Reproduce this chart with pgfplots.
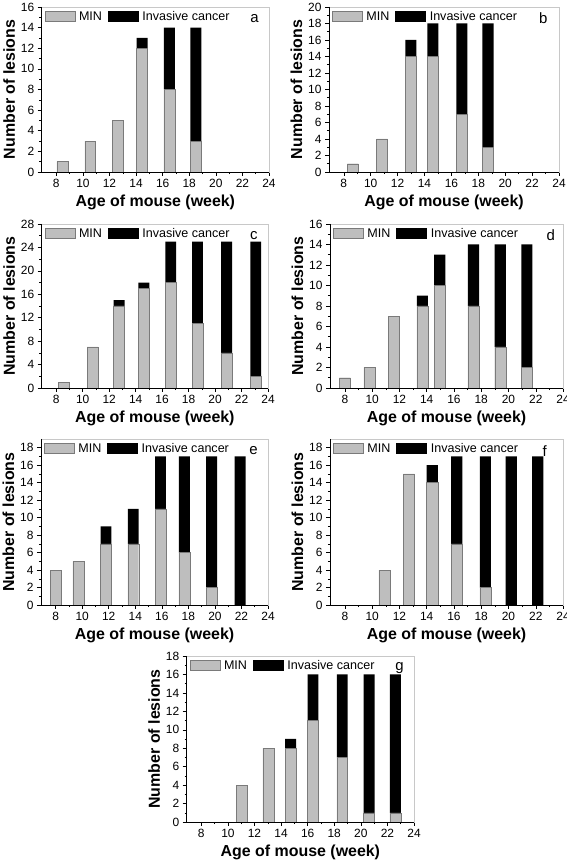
\documentclass[border=0pt]{standalone}
\usepackage{fontspec}
\setmainfont{Liberation Sans}
\usepackage{pgfplots}
\pgfplotsset{compat=1.18}
\definecolor{mingray}{HTML}{BEBEBE}
\definecolor{minedge}{HTML}{7A7A7A}
\definecolor{framegray}{HTML}{C8C8C8}
\pgfplotsset{panel/.style={
  scale only axis, anchor=south west,
  xmin=6.9, xmax=24, ymin=0,
  xtick={8,10,...,24},
  minor x tick num=1, minor y tick num=1,
  tick align=outside, xtick pos=bottom, ytick pos=left,
  major tick length=4bp, minor tick length=2.2bp,
  tick style={black, line width=0.5bp},
  axis line style={framegray, line width=0.6bp},
  ybar stacked, bar width=0.82,
  /pgf/number format/assume math mode=true,
  tick label style={font=\fontsize{12}{14}\selectfont},
  xlabel={Age of mouse (week)}, ylabel={Number of lesions},
  label style={font=\bfseries\fontsize{16}{19}\selectfont},
  xlabel style={yshift=0bp},
  ylabel style={yshift=-1bp},
  legend columns=2,
  legend style={draw=none, fill=none, at={(0.012,0.975)}, anchor=north west,
    font=\fontsize{12.6}{14}\selectfont, inner sep=0pt,
    nodes={inner sep=0bp},
    /tikz/every odd column/.append style={column sep=4bp},
    /tikz/every even column/.append style={column sep=6bp}},
  legend image code/.code={\draw[##1] (0bp,-5bp) rectangle (30bp,5bp);},
  after end axis/.code={\draw[black, line width=0.6bp] (rel axis cs:0,1) -- (rel axis cs:0,0) -- (rel axis cs:1,0);},
}}
\newcommand{\panellabel}[2]{\node[anchor=east, font=\fontsize{15}{16}\selectfont] at (rel axis cs:#1,0.93) {#2};}
\begin{document}
\begin{tikzpicture}
\useasboundingbox (0bp,0bp) rectangle (567bp,865bp);
% a
\begin{axis}[panel, at={(41.7bp,693bp)}, width=227.3bp, height=165bp, ymax=16, ytick={0,2,...,16}]
\addplot[fill=mingray, draw=minedge] coordinates {(8.45,1) (10.55,3) (12.6,5) (14.45,12) (16.5,8) (18.5,3)};
\addplot[fill=black, draw=none] coordinates {(8.45,0) (10.55,0) (12.6,0) (14.45,1) (16.5,6) (18.5,11)};
\legend{MIN, Invasive cancer}
\panellabel{0.97}{a}
\end{axis}
% b
\begin{axis}[panel, at={(329bp,693bp)}, width=230bp, height=165bp, ymax=20, ytick={0,2,...,20}]
\addplot[fill=mingray, draw=minedge] coordinates {(8.68,1) (10.85,4) (12.98,14) (14.63,14) (16.78,7) (18.72,3)};
\addplot[fill=black, draw=none] coordinates {(8.68,0) (10.85,0) (12.98,2) (14.63,4) (16.78,11) (18.72,15)};
\legend{MIN, Invasive cancer}
\panellabel{0.965}{b}
\end{axis}
% c
\begin{axis}[panel, at={(41.7bp,477bp)}, width=226.3bp, height=164bp, ymax=28, ytick={0,4,...,28}]
\addplot[fill=mingray, draw=minedge] coordinates {(8.57,1) (10.75,7) (12.75,14) (14.62,17) (16.65,18) (18.67,11) (20.87,6) (23.07,2)};
\addplot[fill=black, draw=none] coordinates {(8.57,0) (10.75,0) (12.75,1) (14.62,1) (16.65,7) (18.67,14) (20.87,19) (23.07,23)};
\legend{MIN, Invasive cancer}
\panellabel{0.97}{c}
\end{axis}
% d
\begin{axis}[panel, at={(330bp,477bp)}, width=233bp, height=164bp, ymax=16, ytick={0,2,...,16}]
\addplot[fill=mingray, draw=minedge] coordinates {(7.99,1) (9.8,2) (11.6,7) (13.68,8) (14.95,10) (17.43,8) (19.4,4) (21.35,2)};
\addplot[fill=black, draw=none] coordinates {(7.99,0) (9.8,0) (11.6,0) (13.68,1) (14.95,3) (17.43,6) (19.4,10) (21.35,12)};
\legend{MIN, Invasive cancer}
\panellabel{0.98}{d}
\end{axis}
% e
\begin{axis}[panel, at={(41bp,260bp)}, width=227bp, height=166bp, ymax=19, ytick={0,2,...,18}]
\addplot[fill=mingray, draw=minedge] coordinates {(8.04,4) (9.72,5) (11.8,7) (13.85,7) (15.9,11) (17.7,6) (19.75,2) (21.9,0)};
\addplot[fill=black, draw=none] coordinates {(8.04,0) (9.72,0) (11.8,2) (13.85,4) (15.9,6) (17.7,11) (19.75,15) (21.9,17)};
\legend{MIN, Invasive cancer}
\panellabel{0.97}{e}
\end{axis}
% f
\begin{axis}[panel, at={(330bp,260bp)}, width=233bp, height=166bp, ymax=19, ytick={0,2,...,18}]
\addplot[fill=mingray, draw=minedge] coordinates {(10.9,4) (12.7,15) (14.4,14) (16.2,7) (18.3,2) (20.2,0) (22.15,0)};
\addplot[fill=black, draw=none] coordinates {(10.9,0) (12.7,0) (14.4,2) (16.2,10) (18.3,15) (20.2,17) (22.15,17)};
\legend{MIN, Invasive cancer}
\panellabel{0.945}{f}
\end{axis}
% g
\begin{axis}[panel, at={(186.7bp,43bp)}, width=227.3bp, height=166bp, ymax=18, ytick={0,2,...,18}]
\addplot[fill=mingray, draw=minedge] coordinates {(11.02,4) (13.05,8) (14.72,8) (16.4,11) (18.6,7) (20.62,1) (22.6,1)};
\addplot[fill=black, draw=none] coordinates {(11.02,0) (13.05,0) (14.72,1) (16.4,5) (18.6,9) (20.62,15) (22.6,15)};
\legend{MIN, Invasive cancer}
\panellabel{0.97}{g}
\end{axis}
\end{tikzpicture}
\end{document}
